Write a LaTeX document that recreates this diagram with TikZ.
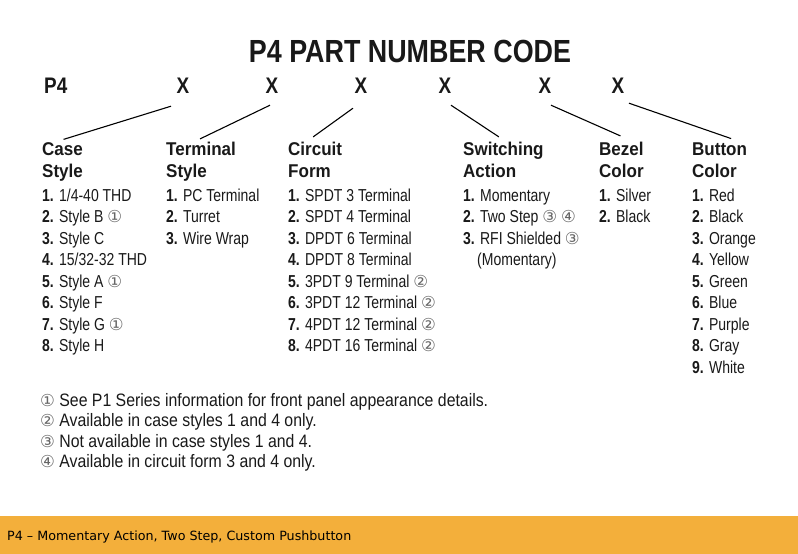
\documentclass[tikz,border=0pt]{standalone}
\usepackage{fontspec}
\setmainfont{Liberation Sans}[FakeStretch=0.81]
\newfontfamily\headfont{Liberation Sans}[FakeStretch=0.92]
\newfontfamily\notefont{Liberation Sans}[FakeStretch=0.88]
\newfontfamily\titlefont{Liberation Sans}[FakeStretch=0.84]
\newfontfamily\circfont{DejaVu Sans}
\newfontfamily\barfont{DejaVu Sans}
\definecolor{barorange}{RGB}{243,175,59}
\definecolor{inkgray}{RGB}{25,25,25}
\newcommand{\circnum}[1]{{\circfont\fontsize{16.5}{16.5}\selectfont\color{black!60}#1}}

\tikzset{
  codetitle/.style={font=\titlefont\bfseries\fontsize{32}{32}\selectfont, anchor=base, inner sep=0},
  digit/.style={font=\titlefont\bfseries\fontsize{22.5}{22.5}\selectfont, anchor=base, inner sep=0},
  colhead/.style={font=\headfont\bfseries\fontsize{18.5}{22}\selectfont, align=left, anchor=base west, inner sep=0},
  entry/.style={font=\fontsize{17.3}{17.3}\selectfont, anchor=base west, inner sep=0},
  note/.style={font=\notefont\fontsize{18}{18}\selectfont, anchor=base west, inner sep=0},
  link/.style={line width=1.1pt}
}

\begin{document}
\begin{tikzpicture}[x=1pt,y=-1pt,text=inkgray]
  \useasboundingbox (0,0) rectangle (798,554);

  % title and code row
  \node[codetitle] (title) at (410,62) {P4 PART NUMBER CODE};
  \node[digit, anchor=base west] (p4) at (44,93) {P4};
  \node[digit] (x1) at (183,93) {X};
  \node[digit] (x2) at (272,93) {X};
  \node[digit] (x3) at (361,93) {X};
  \node[digit] (x4) at (445,93) {X};
  \node[digit] (x5) at (545,93) {X};
  \node[digit] (x6) at (618,93) {X};

  % column headings (base = last line)
  \node[colhead] (case) at (42,177) {Case\\Style};
  \node[colhead] (terminal) at (166,177) {Terminal\\Style};
  \node[colhead] (circuit) at (288,177) {Circuit\\Form};
  \node[colhead] (switching) at (463,177) {Switching\\Action};
  \node[colhead] (bezel) at (599,177) {Bezel\\Color};
  \node[colhead] (button) at (692,177) {Button\\Color};

  \draw[link] ([shift={(-12,13)}]x1.south) -- ([shift={(1,-2.5)}]case.north);
  \draw[link] ([shift={(-2,12)}]x2.south) -- ([shift={(-1,-2.5)}]terminal.north);
  \draw[link] ([shift={(-8,15)}]x3.south) -- ([shift={(-2,-4.5)}]circuit.north);
  \draw[link] ([shift={(6,12)}]x4.south) -- ([shift={(-4.5,-4.5)}]switching.north);
  \draw[link] ([shift={(6,12)}]x5.south) -- ([shift={(-1,-5.5)}]bezel.north);
  \draw[link] ([shift={(11,10)}]x6.south) -- ([shift={(11.5,-3.5)}]button.north);

  % option lists
  \foreach \txt [count=\i] in {{1/4-40 THD}, {Style B \circnum{①}}, {Style C},
      {15/32-32 THD}, {Style A \circnum{①}}, {Style F}, {Style G \circnum{①}}, {Style H}}
    \node[entry] (case\i) at (42,{201+21.5*(\i-1)}) {\textbf{\i.} \txt};
  \foreach \txt [count=\i] in {{PC Terminal}, {Turret}, {Wire Wrap}}
    \node[entry] (terminal\i) at (166,{201+21.5*(\i-1)}) {\textbf{\i.} \txt};
  \foreach \txt [count=\i] in {{SPDT 3 Terminal}, {SPDT 4 Terminal}, {DPDT 6 Terminal},
      {DPDT 8 Terminal}, {3PDT 9 Terminal \circnum{②}}, {3PDT 12 Terminal \circnum{②}},
      {4PDT 12 Terminal \circnum{②}}, {4PDT 16 Terminal \circnum{②}}}
    \node[entry] (circuit\i) at (288,{201+21.5*(\i-1)}) {\textbf{\i.} \txt};
  \foreach \txt [count=\i] in {{Momentary}, {Two Step \circnum{③} \circnum{④}},
      {RFI Shielded \circnum{③}}}
    \node[entry] (switching\i) at (463,{201+21.5*(\i-1)}) {\textbf{\i.} \txt};
  \node[entry] (switching4) at (477,265.5) {(Momentary)};
  \foreach \txt [count=\i] in {{Silver}, {Black}}
    \node[entry] (bezel\i) at (599,{201+21.5*(\i-1)}) {\textbf{\i.} \txt};
  \foreach \txt [count=\i] in {{Red}, {Black}, {Orange}, {Yellow}, {Green},
      {Blue}, {Purple}, {Gray}, {White}}
    \node[entry] (button\i) at (692,{201+21.5*(\i-1)}) {\textbf{\i.} \txt};

  % footnotes
  \node[note] (note1) at (40,406) {\circnum{①} See P1 Series information for front panel appearance details.};
  \node[note] (note2) at (40,426.5) {\circnum{②} Available in case styles 1 and 4 only.};
  \node[note] (note3) at (40,447) {\circnum{③} Not available in case styles 1 and 4.};
  \node[note] (note4) at (40,467.5) {\circnum{④} Available in circuit form 3 and 4 only.};

  % caption bar
  \fill[barorange] (0,516) rectangle (798,554);
  \node[anchor=base west, inner sep=0, text=black,
    font=\barfont\fontsize{12.7}{12.7}\selectfont] (caption) at (7,540)
    {P4 – Momentary Action, Two Step, Custom Pushbutton};
\end{tikzpicture}
\end{document}
